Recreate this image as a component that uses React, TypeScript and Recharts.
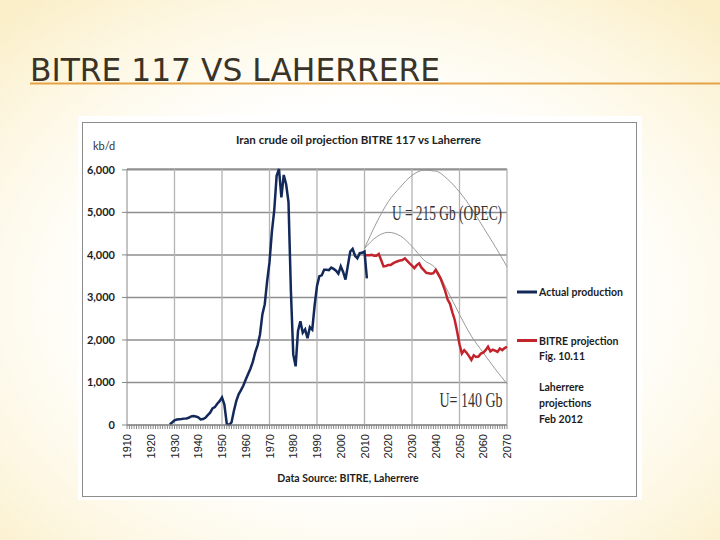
import { CartesianGrid, Legend, Line, LineChart, ReferenceDot, ReferenceLine, XAxis, YAxis } from "recharts";

// Iran crude oil production, kb/d
const actualFrom = 1928
const actualProduction = [
  20, 60, 110, 130, 135, 140, 150, 155, 170, 200,      // 1928-1937
  210, 200, 180, 130, 140, 170, 230, 290, 390, 420,    // 1938-1947
  500, 560, 650, 480, 30, 0, 60, 330, 560, 720,        // 1948-1957
  820, 930, 1070, 1200, 1330, 1490, 1710, 1880, 2130, 2600, // 1958-1967
  2840, 3380, 3830, 4540, 5050, 5860, 6020, 5350, 5880, 5660, // 1968-1977
  5240, 3170, 1660, 1380, 2210, 2440, 2170, 2250, 2040, 2300, // 1978-1987
  2240, 2810, 3270, 3500, 3520, 3650, 3650, 3640, 3700, 3670, // 1988-1997
  3630, 3560, 3730, 3600, 3420, 3750, 4080, 4140, 3980, 3920, // 1998-2007
  4040, 4050, 4080, 3450,                              // 2008-2011
]

const bitreFrom = 2010
const bitreProjection = [
  3990, 3990, 3990, 4000, 3980, 3980, 4020, 3880, 3730, 3740, // 2010-2019
  3760, 3760, 3800, 3830, 3850, 3870, 3880, 3920, 3860, 3800, // 2020-2029
  3750, 3690, 3760, 3800, 3700, 3640, 3580, 3570, 3560, 3570, // 2030-2039
  3650, 3550, 3450, 3300, 3150, 2950, 2850, 2650, 2470, 2200, // 2040-2049
  1900, 1680, 1760, 1700, 1620, 1530, 1640, 1600, 1610, 1680, // 2050-2059
  1700, 1760, 1840, 1730, 1770, 1750, 1720, 1800, 1760, 1810, // 2060-2069
  1840,                                                       // 2070
]

const laherrereYears = [2010, 2015, 2020, 2025, 2030, 2035, 2040, 2045, 2050, 2055, 2060, 2065, 2070]
const laherrere215 = [4150, 4750, 5250, 5590, 5870, 5990, 5970, 5780, 5480, 5100, 4650, 4200, 3720]
const laherrere140 = [4150, 4420, 4530, 4450, 4200, 3880, 3680, 3150, 2600, 2090, 1700, 1320, 970]

const yTicks = [0, 1000, 2000, 3000, 4000, 5000, 6000]
const gridYears = [1930, 1950, 1970, 1990, 2010, 2030, 2050, 2070]

const years: number[] = []
for (let y = 1910; y <= 2070; y++) years.push(y)

const data = years.map(year => {
  const row: any = { year }
  const a = year - actualFrom
  if (a >= 0 && a < actualProduction.length) row.actual = actualProduction[a]
  const b = year - bitreFrom
  if (b >= 0 && b < bitreProjection.length) row.bitre = bitreProjection[b]
  const l = laherrereYears.indexOf(year)
  if (l >= 0) {
    row.opec = laherrere215[l]
    row.low = laherrere140[l]
  }
  return row
})

const NAVY = "#13295a"
const RED = "#c3232b"
const GREY = "#9a9a9a"

const XTick = ({ x, y, payload }: any) => {
  if (payload.value % 10 !== 0) return <g />
  return (
    <text transform={`translate(${x},${y + 3}) rotate(-90)`} textAnchor="end" dominantBaseline="central"
      fontFamily="Liberation Sans" fontSize={11} fill="#222">
      {payload.value}
    </text>
  )
}

const annotation = (text: string, len: number) => (props: any) => {
  const { viewBox } = props
  return (
    <text x={viewBox.x} y={viewBox.y} textLength={len} lengthAdjust="spacingAndGlyphs"
      fontFamily="Liberation Serif" fontSize={21} fill="#333">
      {text}
    </text>
  )
}

const legendText = { fontFamily: "Lato", fontSize: 10.5, fontWeight: 700, fill: "#1c1c1c" }

const renderLegend = () => (
  <svg width={125} height={150}>
    <line x1={2} x2={22} y1={12} y2={12} stroke={NAVY} strokeWidth={3} />
    <text x={24} y={16} {...legendText}>Actual production</text>
    <line x1={2} x2={22} y1={60.5} y2={60.5} stroke={RED} strokeWidth={3} />
    <text x={24} y={64.5} {...legendText}>BITRE projection</text>
    <text x={24} y={80} {...legendText}>Fig. 10.11</text>
    <text x={24} y={111} {...legendText}>Laherrere</text>
    <text x={24} y={127} {...legendText}>projections</text>
    <text x={24} y={143} {...legendText}>Feb 2012</text>
  </svg>
)

export default function App() {
  return (
    <div style={{
      position: "absolute", left: 0, top: 0, width: 720, height: 540, overflow: "hidden",
      background: "radial-gradient(ellipse 72% 70% at 50% 55%, #ffffff 50%, #fdf7e2 80%, #fbefca 100%)",
    }}>
      <svg width={720} height={540} style={{ position: "absolute", left: 0, top: 0 }}>
        <text x={30} y={81} fontFamily="DejaVu Sans Condensed" fontSize={32} fill="#3a3328"
          textLength={410} lengthAdjust="spacingAndGlyphs">BITRE 117 VS LAHERRERE</text>
        <line x1={30} x2={720} y1={83.5} y2={83.5} stroke="#e3a346" strokeWidth={2} />
        <rect x={78} y={116} width={564} height={384} fill="#ffffff" />
        <rect x={82.5} y={122.5} width={554} height={374} fill="none" stroke="#8c8c8c" />
        <text x={358.5} y={144} textAnchor="middle" fontFamily="Lato" fontWeight={700} fontSize={11.5} fill="#222">
          Iran crude oil projection BITRE 117 vs Laherrere
        </text>
        <text x={93} y={150} fontFamily="Lato" fontSize={11} fill="#333">kb/d</text>
        <text x={348} y={482} textAnchor="middle" fontFamily="Lato" fontWeight={700} fontSize={10.5} fill="#222">
          Data Source: BITRE, Laherrere
        </text>
      </svg>
      <div style={{ position: "absolute", left: 82, top: 122 }}>
        <LineChart width={555} height={375} data={data} margin={{ top: 47, right: 130, bottom: 30, left: 0 }}>
          <CartesianGrid vertical={false} stroke="#8f8f8f" strokeWidth={1.5} />
          {gridYears.map(g => (
            <ReferenceLine key={g} x={g} stroke="#b3b3b3" strokeWidth={1.3} />
          ))}
          <XAxis dataKey="year" type="number" domain={[1910, 2070]} ticks={years} interval={0}
            tickSize={4} height={42} tick={<XTick />} stroke="#888" />
          <YAxis type="number" domain={[0, 6000]} ticks={yTicks} width={45} tickSize={5} tickMargin={7}
            stroke="#888" tickFormatter={(v: number) => v.toLocaleString("en-US")}
            tick={{ fontFamily: "Lato", fontWeight: 700, fontSize: 11, fill: "#1c1c1c" }} />
          <Line dataKey="opec" type="monotone" stroke={GREY} strokeWidth={1} dot={false} connectNulls isAnimationActive={false} legendType="none" />
          <Line dataKey="low" type="monotone" stroke={GREY} strokeWidth={1} dot={false} connectNulls isAnimationActive={false} legendType="none" />
          <Line dataKey="bitre" type="linear" stroke={RED} strokeWidth={2.5} dot={false} isAnimationActive={false} />
          <Line dataKey="actual" type="linear" stroke={NAVY} strokeWidth={2.5} dot={false} isAnimationActive={false} />
          <ReferenceDot x={2022} y={4790} r={1} fill="none" stroke="none" ifOverflow="visible"
            label={{ content: annotation("U = 215 Gb (OPEC)", 110) }} />
          <ReferenceDot x={2042} y={400} r={1} fill="none" stroke="none" ifOverflow="visible"
            label={{ content: annotation("U= 140 Gb", 63) }} />
          <Legend layout="horizontal" verticalAlign="middle" align="center" content={renderLegend}
            wrapperStyle={{ position: "absolute", left: 433, top: 158, width: 125, height: 150 }} />
        </LineChart>
      </div>
    </div>
  )
}
